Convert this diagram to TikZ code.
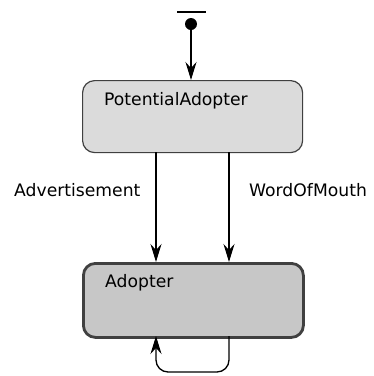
\documentclass[tikz,border=0pt]{standalone}
\usepackage{fontspec}
\setmainfont{DejaVu Sans}
\usetikzlibrary{arrows.meta}
\begin{document}
\begin{tikzpicture}[x=1pt,y=-1pt,
  lbl/.style={font=\fontsize{17.2}{19}\selectfont, inner sep=0pt, anchor=base west},
  state/.style={draw=black!75, rounded corners=12pt, minimum width=220pt, anchor=north west, inner sep=0pt},
  arr/.style={-{Stealth[length=18pt,width=11pt,inset=6pt]}, line width=1.3pt, black}]
\useasboundingbox (0,0) rectangle (374,376);
\fill[white] (0,0) rectangle (374,376);
% initial
\draw[line width=2.5pt] (177,12) -- (206,12);
\node[circle, fill=black, minimum size=12pt, inner sep=0pt] (init) at (191,24) {};
% states
\node[state, fill=black!14, line width=1.2pt, minimum height=72pt] (pa) at (82,80) {};
\node[lbl] (patext) at (104,105) {PotentialAdopter};
\node[state, fill=black!22, line width=2.8pt, minimum height=74pt] (ad) at (82,262) {};
\node[lbl] (adtext) at (105,287) {Adopter};
% labels
\node[lbl] (advt) at (14,196) {Advertisement};
\node[lbl] (wom) at (249,196) {WordOfMouth};
% connectors
\draw[arr] (init) -- (init |- pa.north);
\coordinate (a1) at (156,152);
\coordinate (a2) at (229,152);
\draw[arr] (a1) -- (a1 |- ad.north);
\draw[arr] (a2) -- (a2 |- ad.north);
\coordinate (l1) at (229,336);
\coordinate (l2) at (156,336);
\draw[arr, rounded corners=12pt] (l1) -- (229,372) -- (156,372) -- (l2);
\end{tikzpicture}
\end{document}
